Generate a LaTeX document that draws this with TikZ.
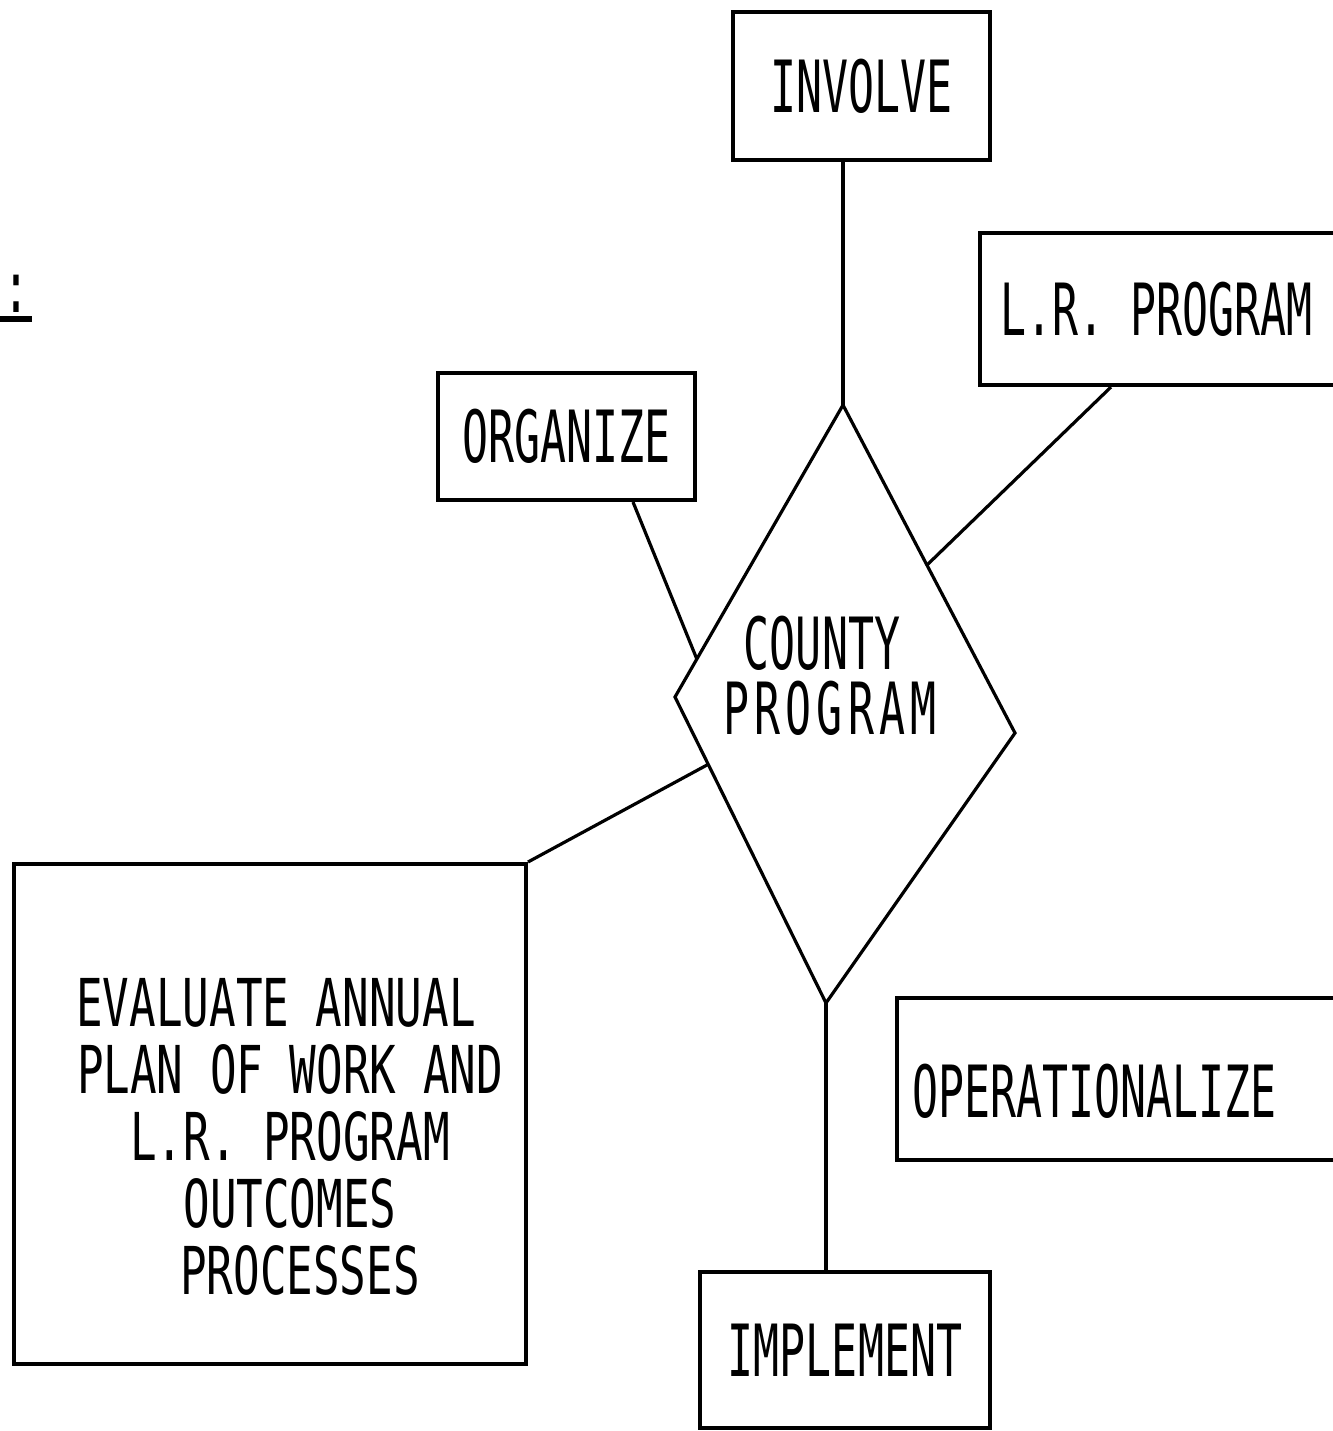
\documentclass[tikz,border=0pt]{standalone}
\usepackage{fontspec}
\newfontfamily\lblfont[FakeStretch=0.6]{DejaVu Sans Mono}
\newfontfamily\widefont[FakeStretch=0.6,LetterSpace=7]{DejaVu Sans Mono}
\newfontfamily\evalfont[FakeStretch=0.67]{DejaVu Sans Mono}
\usetikzlibrary{calc}
\begin{document}
\begin{tikzpicture}[x=0.5pt,y=-0.5pt,
  box/.style={draw, line width=2pt, inner sep=0pt},
  link/.style={line width=1.6pt},
  lbl/.style={font=\lblfont\fontsize{36}{32.5}\selectfont, inner sep=0pt},
  evlbl/.style={font=\evalfont\fontsize{33}{33.5}\selectfont, inner sep=0pt, align=center}]
\useasboundingbox (0,0) rectangle (1333,1431);
\clip (0,0) rectangle (1333,1431);

% boxes
\node[box, lbl, minimum width=128.5pt, minimum height=74pt] (involve) at (861.5,86) {INVOLVE};
\node[box, minimum width=182.5pt, minimum height=76pt] (lr) at (1162.5,309) {};
\node[lbl, anchor=base west] (lrtext) at (1000,335) {L.R.\ PROGRAM};
\node[box, lbl, minimum width=128.5pt, minimum height=63.5pt] (org) at (566.5,436.5) {ORGANIZE};
\node[box, minimum width=256pt, minimum height=250pt] (eval) at (270,1114) {};
\node[evlbl] (evaltext) at (290,1137) {EVALUATE ANNUAL\hspace*{14pt}\\PLAN OF WORK AND\\L.R.\ PROGRAM\\OUTCOMES\\\hspace*{10pt}PROCESSES};
\node[box, minimum width=224pt, minimum height=81pt] (oper) at (1121,1079) {};
\node[lbl, anchor=base west] (opertext) at (912,1117) {OPERATIONALIZE};
\node[box, lbl, minimum width=145pt, minimum height=78pt] (impl) at (845,1350) {IMPLEMENT};

% diamond
\coordinate (dT) at (843,405);
\coordinate (dR) at (1015,733);
\coordinate (dB) at (826,1003);
\coordinate (dL) at (675,697);
\draw[link] (dT) -- (dR) -- (dB) -- (dL) -- cycle;
\node[lbl, align=center] (county) at (830,676) {COUNTY\hspace*{8pt}\\{\widefont PROGRAM}};

% connectors
\draw[link] (involve.south -| dT) -- (dT);
\draw[link] ($(lr.south west)+(133,0)$) -- ($(dT)!0.488!(dR)$);
\draw[link] ($(org.south west)+(197,0)$) -- ($(dT)!0.87!(dL)$);
\draw[link] (eval.north east) -- ($(dL)!0.22!(dB)$);
\draw[link] (dB) -- (dB |- impl.north);

% caption fragment at left edge
\node[lbl, anchor=base] (colon) at (17,312) {:};
\fill (0,316) rectangle (32,322);
\end{tikzpicture}
\end{document}
